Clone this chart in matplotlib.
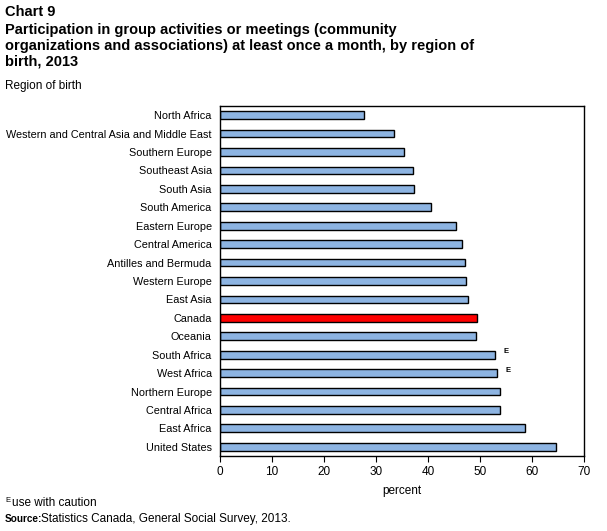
import matplotlib.pyplot as plt
import numpy as np

plt.rcParams["font.family"] = ["Liberation Sans", "DejaVu Sans"]

# ── Data ───────────────────────────────────────────────────────────────────
regions = [
    "North Africa", "Western and Central Asia and Middle East", "Southern Europe",
    "Southeast Asia", "South Asia", "South America", "Eastern Europe",
    "Central America", "Antilles and Bermuda", "Western Europe", "East Asia",
    "Canada", "Oceania", "South Africa", "West Africa", "Northern Europe",
    "Central Africa", "East Africa", "United States",
]
values = [27.6, 33.5, 35.3, 37.2, 37.4, 40.6, 45.3, 46.6, 47.2, 47.4, 47.6,
          49.4, 49.3, 52.8, 53.3, 53.9, 53.9, 58.7, 64.7]
flag_e = ["South Africa", "West Africa"]

title_lines = [
    "Participation in group activities or meetings (community",
    "organizations and associations) at least once a month, by region of",
    "birth, 2013",
]

BLUE = "#8DB4E2"
RED = "#FF0000"
W, H = 607, 531

fig = plt.figure(figsize=(W / 100, H / 100), dpi=100)
ax = fig.add_axes([220 / W, 1 - 456 / H, 364 / W, 350 / H])

y = np.arange(len(regions))
colors = [RED if r == "Canada" else BLUE for r in regions]
ax.barh(y, values, height=0.42, color=colors, edgecolor="black", linewidth=1)

for i, (r, v) in enumerate(zip(regions, values)):
    if r in flag_e:
        ax.text(v + 1.7, i - 0.15, "E", fontsize=5.5, fontweight="bold",
                ha="left", va="center")

ax.set_ylim(len(regions) - 0.5, -0.5)
ax.set_xlim(0, 70)
ax.set_xticks(range(0, 71, 10))
ax.set_yticks(y)
ax.set_yticklabels(regions, fontsize=7.8)
ax.tick_params(axis="y", length=0, pad=6)
ax.tick_params(axis="x", direction="out", length=4, labelsize=8.5, pad=3)
for s in ax.spines.values():
    s.set_linewidth(1)
ax.set_xlabel("percent", fontsize=8.5, labelpad=5)

# ── Titles / notes ─────────────────────────────────────────────────────────
fig.text(5 / W, 1 - 12 / H, "Chart 9", fontsize=10.5, fontweight="bold", va="center")
for k, line in enumerate(title_lines):
    fig.text(5 / W, 1 - (30 + 16 * k) / H, line, fontsize=10.5,
             fontweight="bold", va="center")
fig.text(5 / W, 1 - 86 / H, "Region of birth", fontsize=8.5, va="center")
fig.text(5 / W, 1 - 500 / H, "E", fontsize=5.5, va="center")
fig.text(12 / W, 1 - 503 / H, "use with caution", fontsize=8.5, va="center")
fig.text(5 / W, 1 - 519 / H, "Source:", fontsize=7.2, fontweight="bold", va="center")
fig.text(41 / W, 1 - 519 / H, "Statistics Canada, General Social Survey, 2013.",
         fontsize=8.5, va="center")

plt.savefig("out.png", dpi=100)
